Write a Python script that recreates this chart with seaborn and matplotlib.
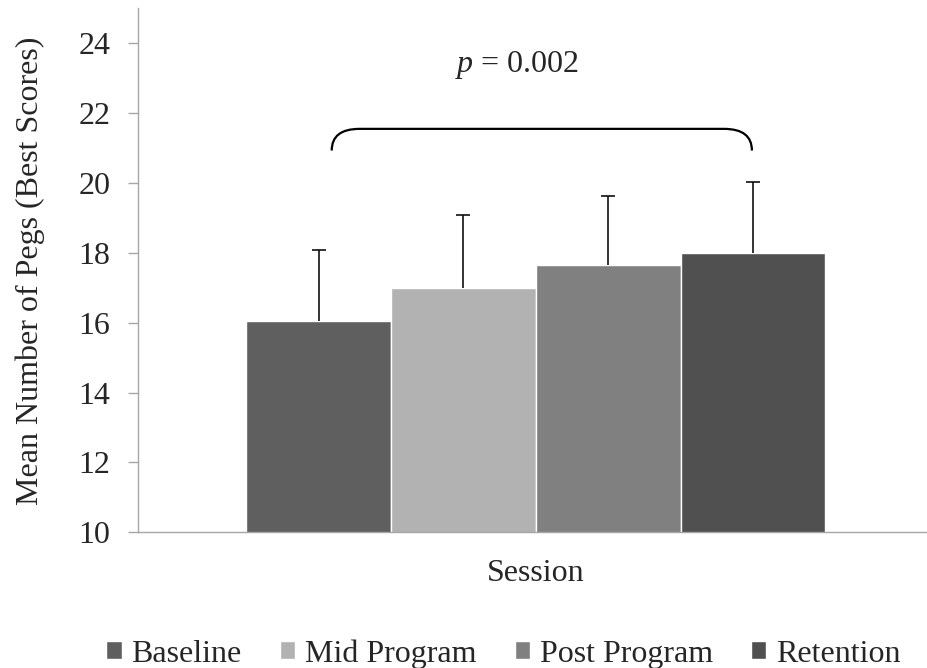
import pandas as pd
import seaborn as sns
import matplotlib.pyplot as plt
from matplotlib.path import Path
from matplotlib.patches import PathPatch
from matplotlib import transforms

# Values
sessions = ["Baseline", "Mid Program", "Post Program", "Retention"]
means = [16.05, 17.0, 17.65, 18.0]
sds = [2.02, 2.07, 1.97, 2.02]
colors = ["#5f5f5f", "#b2b2b2", "#808080", "#505050"]
p_label = "$p$ = 0.002"

df = pd.DataFrame({"group": "Session", "Condition": sessions, "Mean": means})

sns.set_theme(style="white")
plt.rcParams["font.family"] = ["Liberation Serif", "DejaVu Serif"]
plt.rcParams["mathtext.fontset"] = "custom"
plt.rcParams["mathtext.it"] = "Liberation Serif:italic"
plt.rcParams["mathtext.rm"] = "Liberation Serif"
fs = 23

fig = plt.figure(figsize=(9.27, 6.68), dpi=100)
ax = fig.add_axes([0.1485, 0.2031, 0.859, 0.7844])

sns.barplot(data=df, x="group", y="Mean", hue="Condition", palette=colors,
            width=0.7275, saturation=1, errorbar=None, ax=ax)

# one-sided SD error bars
bars = ax.patches[:len(sessions)]
xs = [b.get_x() + b.get_width() / 2 for b in bars]
eb = ax.errorbar(xs, means, yerr=[[0] * len(sds), sds], fmt="none",
                 ecolor="#111111", elinewidth=1.2, capsize=4.7, capthick=1.2)
eb[1][0].set_visible(False)

ax.set_xlim(-0.5, 0.5)
ax.set_ylim(10, 25)
ax.set_yticks(range(10, 25, 2))
ax.set_xlabel("")
ax.set_ylabel("Mean Number of Pegs (Best Scores)", fontsize=fs)
ax.yaxis.set_label_coords(-0.116, 0.5)
ax.tick_params(axis="y", labelsize=fs, length=7.5, width=1, color="#a6a6a6",
               direction="out", left=True, pad=12)
ax.tick_params(axis="x", labelsize=fs, length=0, pad=19.5)

sns.despine(ax=ax)
for s in ["left", "bottom"]:
    ax.spines[s].set_color("#a6a6a6")
    ax.spines[s].set_linewidth(1)

# significance brace across the sessions
trans = transforms.blended_transform_factory(ax.transAxes, ax.transData)
x0, x1, cw = 0.2437, 0.7714, 0.035
yb, yt = 20.93, 21.55
verts = [(x0, yb), (x0, yt), (x0 + cw, yt), (x1 - cw, yt), (x1, yt), (x1, yb)]
codes = [Path.MOVETO, Path.CURVE3, Path.CURVE3, Path.LINETO, Path.CURVE3, Path.CURVE3]
ax.add_patch(PathPatch(Path(verts, codes), transform=trans, fill=False,
                       lw=1.6, edgecolor="black", clip_on=False))
ax.text(0.477, 23.17, p_label, transform=trans, ha="center", va="baseline",
        fontsize=fs)

handles, labels = ax.get_legend_handles_labels()
ax.legend_.remove()
fig.legend(handles, labels, loc="center", bbox_to_anchor=(0.543, 0.021),
           ncol=4, frameon=False, fontsize=fs, handlelength=0.48,
           handleheight=0.48, handletextpad=0.3, columnspacing=1.2)

plt.savefig("out.png", dpi=100)
